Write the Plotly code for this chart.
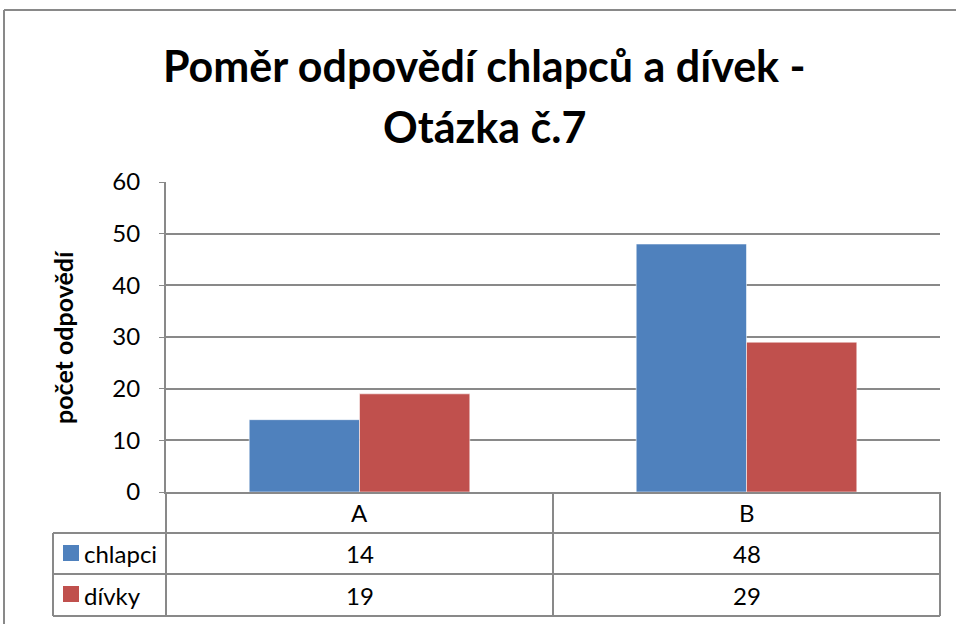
import plotly.graph_objects as go

# ---- data ----
categories = ["A", "B"]
series_names = ["chlapci", "dívky"]
chlapci = [14, 48]
divky = [19, 29]
y_ticks = [0, 10, 20, 30, 40, 50, 60]
title_lines = ["Poměr odpovědí chlapců a dívek -", "Otázka č.7"]
y_title = "počet odpovědí"

# ---- style ----
W, H = 956, 624
L, R, T, B = 166, 940, 182, 492  # plot area in pixels
BLUE = "#4F81BD"
RED = "#C0504D"
GRID = "#898989"
FONT = "Lato, Carlito, Calibri, sans-serif"


def px(xp):
    return (xp - L) / (R - L)


def py(yp):
    return (B - yp) / (B - T)


fig = go.Figure()
series_vals = [chlapci, divky]
series_colors = [BLUE, RED]
for name, vals, col in zip(series_names, series_vals, series_colors):
    fig.add_trace(go.Bar(
        x=categories, y=vals, name=name,
        marker=dict(color=col, line=dict(color="rgba(255,255,255,0.55)", width=1)),
        showlegend=False, hoverinfo="x+y+name",
    ))

shapes = []
line_style = dict(color=GRID, width=2)

def hline(y, x0, x1):
    shapes.append(dict(type="line", xref="paper", yref="paper",
                       x0=px(x0), x1=px(x1), y0=py(y), y1=py(y), line=line_style))

def vline(x, y0, y1):
    shapes.append(dict(type="line", xref="paper", yref="paper",
                       x0=px(x), x1=px(x), y0=py(y0), y1=py(y1), line=line_style))

# data table grid
row_tops = [533, 574, 616]
for yy in row_tops:
    hline(yy, 53, R)
vline(53, 533, 616)
vline(L, 492, 616)
vline((L + R) / 2, 492, 616)
vline(R, 492, 616)

# outer chart border (left + top)
shapes.append(dict(type="line", xref="paper", yref="paper",
                   x0=px(4), x1=px(4), y0=py(10), y1=py(630), line=dict(color=GRID, width=2)))
shapes.append(dict(type="line", xref="paper", yref="paper",
                   x0=px(4), x1=px(960), y0=py(10), y1=py(10), line=dict(color=GRID, width=2)))

# legend keys in table
key_tops = [545, 586]
for col, kt in zip(series_colors, key_tops):
    shapes.append(dict(type="rect", xref="paper", yref="paper",
                       x0=px(63), x1=px(79), y0=py(kt), y1=py(kt + 16),
                       fillcolor=col, line=dict(width=0)))

annotations = []
# title
title_centers = [65, 126]
for txt, yc in zip(title_lines, title_centers):
    annotations.append(dict(text=f"<b>{txt}</b>", xref="paper", yref="paper",
                            x=px(484), y=py(yc), xanchor="center", yanchor="middle",
                            showarrow=False, font=dict(family=FONT, size=43, color="black")))
# y-axis title
annotations.append(dict(text=f"<b>{y_title}</b>", xref="paper", yref="paper",
                        x=px(63), y=py(337), xanchor="center", yanchor="middle",
                        textangle=-90, showarrow=False,
                        font=dict(family=FONT, size=25, color="black")))
# table: category header
for c in categories:
    annotations.append(dict(text=c, xref="x", yref="paper", x=c, y=py(512),
                            xanchor="center", yanchor="middle", showarrow=False,
                            font=dict(family=FONT, size=24, color="black")))
# table rows
row_centers = [553.5, 595]
for name, vals, yc in zip(series_names, series_vals, row_centers):
    annotations.append(dict(text=name, xref="paper", yref="paper", x=px(82), y=py(yc),
                            xanchor="left", yanchor="middle", showarrow=False,
                            font=dict(family=FONT, size=24, color="black")))
    for c, v in zip(categories, vals):
        annotations.append(dict(text=str(v), xref="x", yref="paper", x=c, y=py(yc),
                                xanchor="center", yanchor="middle", showarrow=False,
                                font=dict(family=FONT, size=24, color="black")))

fig.update_layout(
    width=W, height=H,
    margin=dict(l=L, r=W - R, t=T, b=H - B, pad=0),
    paper_bgcolor="white", plot_bgcolor="white",
    barmode="group", bargap=0.43, bargroupgap=0,
    shapes=shapes, annotations=annotations,
    font=dict(family=FONT, color="black"),
)
fig.update_xaxes(showticklabels=False, showgrid=False, showline=True,
                 linecolor=GRID, linewidth=2, ticks="", zeroline=False)
fig.update_yaxes(range=[0, 60], tickvals=y_ticks, showgrid=True, gridcolor=GRID,
                 gridwidth=1.5, showline=True, linecolor=GRID, linewidth=2,
                 ticks="outside", ticklen=5, tickcolor=GRID, zeroline=False,
                 tickfont=dict(family=FONT, size=24, color="black"),
                 ticklabelstandoff=14)

fig.write_html("out.html",
               config={"displayModeBar": False},
               post_script="document.body.style.margin='0';document.body.style.overflow='hidden';")
